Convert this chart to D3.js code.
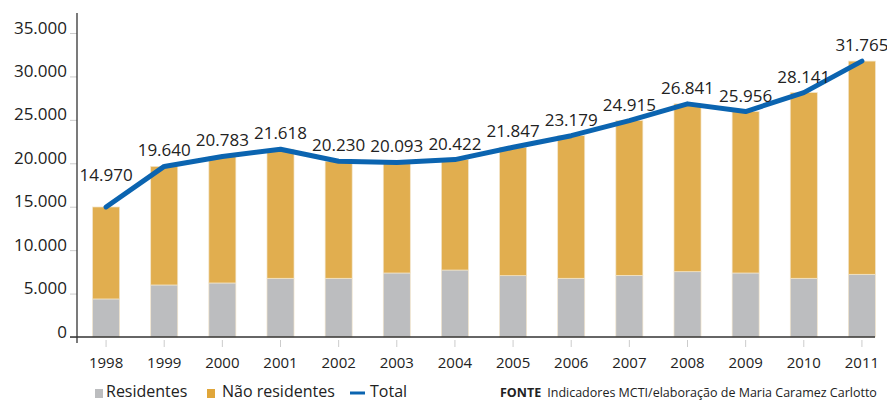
<!DOCTYPE html>
<html lang="pt">
<head>
    <meta charset="UTF-8">
    <title>Pedidos de patentes</title>
    <script src="https://d3js.org/d3.v7.js"></script>
    <style>
        body { margin: 0; background: #fff; }
        text { font-family: "Open Sans", sans-serif; fill: #222; }
    </style>
</head>
<body>
<svg></svg>
<script>
    let years = ["1998", "1999", "2000", "2001", "2002", "2003", "2004",
        "2005", "2006", "2007", "2008", "2009", "2010", "2011"];
    let residentes = [4380, 5990, 6220, 6760, 6760, 7370, 7710,
        7060, 6760, 7100, 7520, 7370, 6760, 7220];
    let naoResidentes = [10590, 13650, 14563, 14858, 13470, 12723, 12712,
        14787, 16419, 17815, 19321, 18586, 21381, 24545];
    let totals = [14970, 19640, 20783, 21618, 20230, 20093, 20422,
        21847, 23179, 24915, 26841, 25956, 28141, 31765];
    let yTicks = [0, 5000, 10000, 15000, 20000, 25000, 30000, 35000];

    let width = 887;
    let height = 402;

    let svg = d3.select("svg")
        .attr("width", width)
        .attr("height", height);

    let x = d3.scaleBand()
        .domain(years)
        .range([77, 891])
        .paddingInner(0.535)
        .paddingOuter(0.2675);

    let y = d3.scaleLinear()
        .domain([0, 35000])
        .range([337, 33]);

    let fmt = d3.formatLocale({decimal: ",", thousands: ".", grouping: [3], currency: ["R$", ""]}).format(",d");

    // stacked bars
    let rows = years.map((yr, i) => ({year: yr, res: residentes[i], nres: naoResidentes[i]}));
    let stacked = d3.stack().keys(["res", "nres"])(rows);
    let colors = {res: "#bcbdbf", nres: "#e1ae4f"};

    svg.append("g").selectAll("g")
        .data(stacked)
        .join("g")
        .attr("fill", d => colors[d.key])
        .selectAll("rect")
        .data(d => d)
        .join("rect")
        .attr("x", d => x(d.data.year))
        .attr("y", d => y(d[1]))
        .attr("width", x.bandwidth())
        .attr("height", d => y(d[0]) - y(d[1]))
        .attr("stroke", "#f3e6cc")
        .attr("stroke-width", 0.7);

    // y axis
    let yAxis = svg.append("g").attr("transform", "translate(77,0)")
        .call(d3.axisLeft(y).tickValues(yTicks).tickSize(7).tickPadding(3).tickFormat(fmt));
    yAxis.select(".domain").remove();
    yAxis.selectAll(".tick line").attr("stroke", "#ccc");
    yAxis.selectAll(".tick text")
        .attr("dy", 0)
        .style("font-size", "17px")
        .style("font-family", "'Open Sans', sans-serif")
        .attr("fill", "#222");
    svg.append("line")
        .attr("x1", 77).attr("x2", 77)
        .attr("y1", 13).attr("y2", 343)
        .attr("stroke", "#333").attr("stroke-width", 1.3);

    // x axis
    let xAxis = svg.append("g").attr("transform", "translate(0,337)")
        .call(d3.axisBottom(x).tickSize(0).tickPadding(0));
    xAxis.select(".domain").remove();
    xAxis.selectAll(".tick line").remove();
    xAxis.selectAll(".tick").append("line")
        .attr("y1", 3).attr("y2", 10)
        .attr("stroke", "#ccc");
    xAxis.selectAll(".tick text")
        .attr("y", 31)
        .attr("dy", 0)
        .style("font-size", "15px")
        .style("font-family", "'Open Sans', sans-serif")
        .attr("fill", "#222");
    svg.append("line")
        .attr("x1", 70).attr("x2", 875)
        .attr("y1", 337).attr("y2", 337)
        .attr("stroke", "#333").attr("stroke-width", 1.3);

    // total line
    let cx = yr => x(yr) + x.bandwidth() / 2;
    let line = d3.line()
        .x((d, i) => cx(years[i]))
        .y(d => y(d));
    svg.append("path")
        .datum(totals)
        .attr("d", line)
        .attr("fill", "none")
        .attr("stroke", "#0b64b0")
        .attr("stroke-width", 5)
        .attr("stroke-linejoin", "round")
        .attr("stroke-linecap", "round");

    // value labels
    svg.append("g").selectAll("text")
        .data(totals)
        .join("text")
        .attr("x", (d, i) => cx(years[i]))
        .attr("y", (d, i) => y(d) - (i === 0 ? 26 : 10))
        .attr("text-anchor", "middle")
        .style("font-size", "17px")
        .text(d => fmt(d));

    // legend
    let legend = svg.append("g");
    legend.append("rect").attr("x", 95).attr("y", 389).attr("width", 8).attr("height", 9).attr("fill", colors.res);
    legend.append("text").attr("x", 106).attr("y", 397).style("font-size", "16px").text("Residentes");
    legend.append("rect").attr("x", 207).attr("y", 389).attr("width", 8).attr("height", 9).attr("fill", "#e0a63a");
    legend.append("text").attr("x", 222).attr("y", 397).style("font-size", "16px").text("Não residentes");
    legend.append("line").attr("x1", 350).attr("x2", 365).attr("y1", 393).attr("y2", 393)
        .attr("stroke", "#0b64b0").attr("stroke-width", 3);
    legend.append("text").attr("x", 370).attr("y", 397).style("font-size", "16px").text("Total");

    let src = svg.append("text").attr("x", 500).attr("y", 397).style("font-size", "12.5px");
    src.append("tspan").style("font-weight", "bold").text("FONTE");
    src.append("tspan").attr("dx", 6).text("Indicadores MCTI/elaboração de Maria Caramez Carlotto");
</script>
</body>
</html>
